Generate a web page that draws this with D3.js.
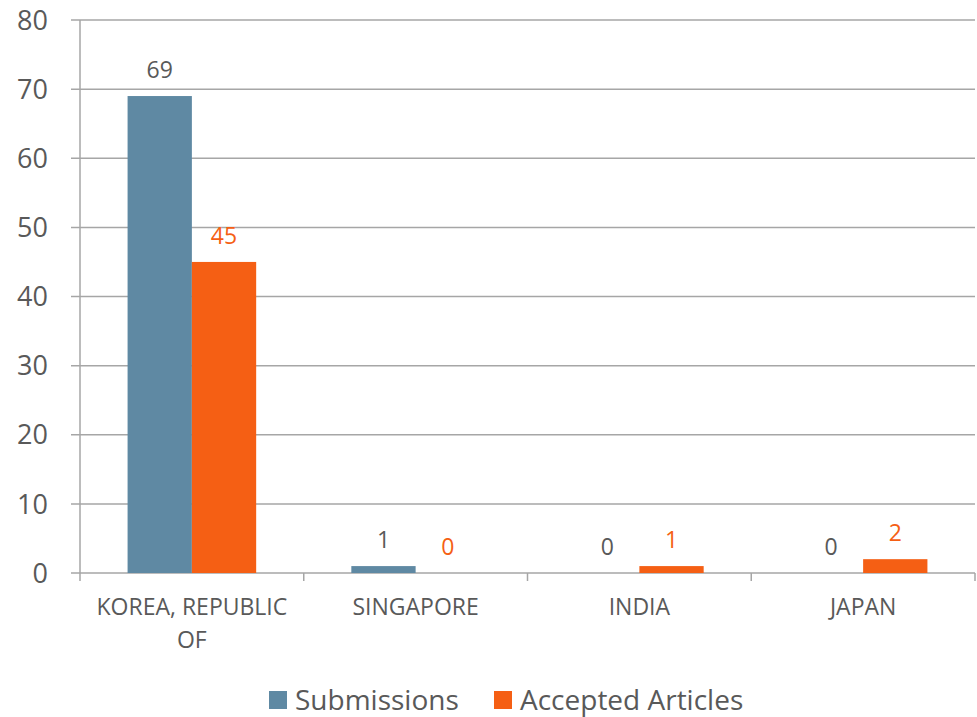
<!DOCTYPE html>
<html>
<head>
<meta charset="utf-8">
<script src="https://cdn.jsdelivr.net/npm/d3@7"></script>
<style>
  body { margin: 0; background: #fff; }
  text { font-family: "Open Sans", sans-serif; fill: #595959; }
</style>
</head>
<body>
<div id="chart"></div>
<script>
const categories = ["KOREA, REPUBLIC OF", "SINGAPORE", "INDIA", "JAPAN"];
const submissions = [69, 1, 0, 0];
const accepted = [45, 0, 1, 2];
const seriesNames = ["Submissions", "Accepted Articles"];
const yTicks = [0, 10, 20, 30, 40, 50, 60, 70, 80];

const width = 977;
const height = 717;
const margin = { top: 20, right: 2, bottom: 144, left: 80 };
const colors = ["#5f89a3", "#f55f14"];
const labelColors = ["#595959", "#f55f14"];

const svg = d3.select("#chart").append("svg").attr("width", width).attr("height", height);

const x = d3.scaleBand().domain(categories).range([margin.left, width - margin.right]);
const xInner = d3.scaleBand().domain(seriesNames).range([0, x.bandwidth()]).paddingInner(0).paddingOuter(0.74);
const y = d3.scaleLinear().domain([0, 80]).range([height - margin.bottom, margin.top]);

// gridlines
svg
  .append("g")
  .selectAll("line")
  .data(yTicks)
  .enter()
  .append("line")
  .attr("x1", margin.left - 9)
  .attr("x2", width - margin.right)
  .attr("y1", (d) => y(d))
  .attr("y2", (d) => y(d))
  .attr("stroke", "#a6a6a6")
  .attr("stroke-width", 1.5);

// y axis line
svg
  .append("line")
  .attr("x1", margin.left)
  .attr("x2", margin.left)
  .attr("y1", y(80))
  .attr("y2", y(0) + 8)
  .attr("stroke", "#a6a6a6")
  .attr("stroke-width", 1.5);

// category separators
svg
  .append("g")
  .selectAll("line")
  .data(categories)
  .enter()
  .append("line")
  .attr("x1", (d) => x(d) + x.bandwidth())
  .attr("x2", (d) => x(d) + x.bandwidth())
  .attr("y1", y(0))
  .attr("y2", y(0) + 8)
  .attr("stroke", "#a6a6a6")
  .attr("stroke-width", 1.5);

// y tick labels
svg
  .append("g")
  .selectAll("text")
  .data(yTicks)
  .enter()
  .append("text")
  .attr("x", 48)
  .attr("y", (d) => y(d))
  .attr("dy", "0.36em")
  .attr("text-anchor", "end")
  .style("font-size", "27px")
  .text((d) => d);

const rows = categories.map((c, i) => [
  { cat: c, series: seriesNames[0], value: submissions[i], s: 0 },
  { cat: c, series: seriesNames[1], value: accepted[i], s: 1 },
]);

const groups = svg
  .append("g")
  .selectAll("g")
  .data(rows)
  .enter()
  .append("g")
  .attr("transform", (d, i) => `translate(${x(categories[i])},0)`);

groups
  .selectAll("rect")
  .data((d) => d)
  .enter()
  .append("rect")
  .attr("x", (d) => xInner(d.series))
  .attr("width", xInner.bandwidth())
  .attr("y", (d) => y(d.value))
  .attr("height", (d) => y(0) - y(d.value))
  .attr("fill", (d) => colors[d.s]);

groups
  .selectAll("text")
  .data((d) => d)
  .enter()
  .append("text")
  .attr("x", (d) => xInner(d.series) + xInner.bandwidth() / 2)
  .attr("y", (d) => y(d.value) - 18)
  .attr("text-anchor", "middle")
  .style("font-size", "23px")
  .style("fill", (d) => labelColors[d.s])
  .text((d) => d.value);

// category labels, wrapped
const catLabels = svg
  .append("g")
  .selectAll("text")
  .data(categories)
  .enter()
  .append("text")
  .attr("text-anchor", "middle")
  .style("font-size", "23px");

catLabels.each(function (d) {
  const words = d === "KOREA, REPUBLIC OF" ? ["KOREA, REPUBLIC", "OF"] : [d];
  d3.select(this)
    .selectAll("tspan")
    .data(words)
    .enter()
    .append("tspan")
    .attr("x", x(d) + x.bandwidth() / 2)
    .attr("y", (w, i) => 615 + i * 33)
    .text((w) => w);
});

// legend
const legendX = [269, 494];
const legend = svg
  .append("g")
  .selectAll("g")
  .data(seriesNames)
  .enter()
  .append("g")
  .attr("transform", (d, i) => `translate(${legendX[i]},691)`);

legend
  .append("rect")
  .attr("width", 18)
  .attr("height", 18)
  .attr("fill", (d, i) => colors[i]);

legend
  .append("text")
  .attr("x", 26)
  .attr("y", 9)
  .attr("dy", "0.36em")
  .style("font-size", "28px")
  .text((d) => d);
</script>
</body>
</html>
